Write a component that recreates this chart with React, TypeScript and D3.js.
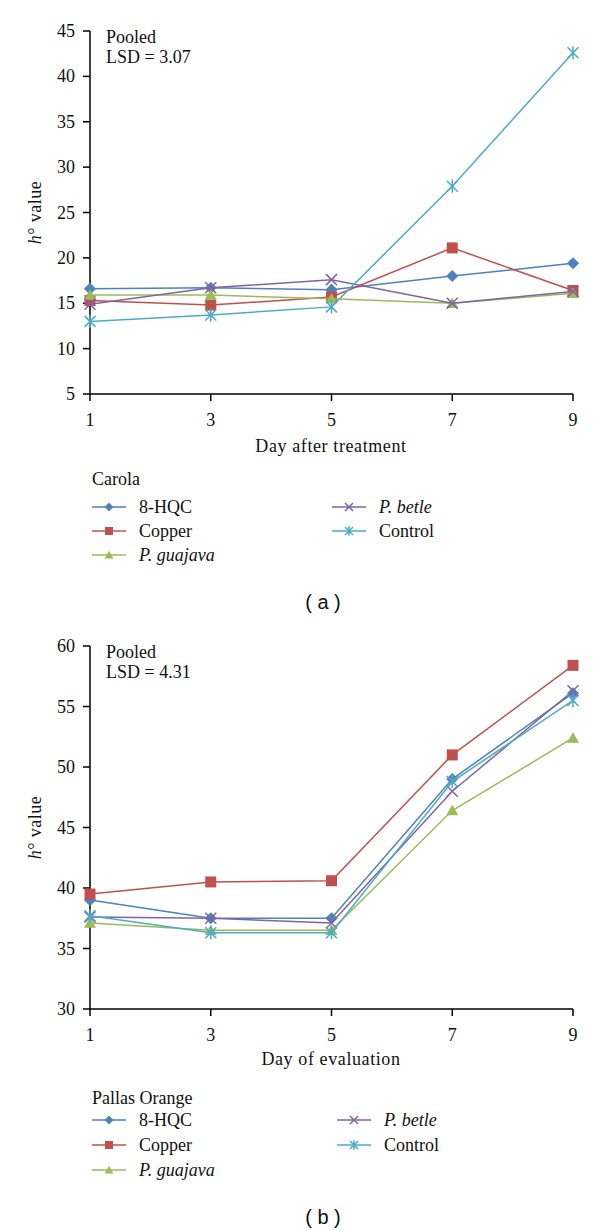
import React from "react";
import * as d3 from "d3";

const days = [1, 3, 5, 7, 9];
const seriesNames = ["8-HQC", "Copper", "P. guajava", "P. betle", "Control"];
const seriesItalic = [false, false, true, true, false];
const seriesColors = ["#4F81BD", "#C0504D", "#9BBB59", "#8064A2", "#4BACC6"];
const seriesMarkers = ["diamond", "square", "triangle", "x", "star"];

// Panel (a) Carola
const carolaHQC = [16.6, 16.7, 16.5, 18.0, 19.4];
const carolaCopper = [15.3, 14.8, 15.7, 21.1, 16.4];
const carolaGuajava = [15.9, 15.9, 15.5, 15.0, 16.1];
const carolaBetle = [14.9, 16.7, 17.6, 15.0, 16.3];
const carolaControl = [13.0, 13.7, 14.6, 27.9, 42.6];
const carolaTicks = [5, 10, 15, 20, 25, 30, 35, 40, 45];

// Panel (b) Pallas Orange
const pallasHQC = [39.0, 37.5, 37.5, 49.0, 56.1];
const pallasCopper = [39.5, 40.5, 40.6, 51.0, 58.4];
const pallasGuajava = [37.1, 36.5, 36.5, 46.4, 52.4];
const pallasBetle = [37.6, 37.5, 37.1, 48.0, 56.3];
const pallasControl = [37.7, 36.3, 36.3, 48.8, 55.5];
const pallasTicks = [30, 35, 40, 45, 50, 55, 60];

const SERIF = "Liberation Serif";
const SANS = "Liberation Sans";
const FS = 18;

function Marker({ type, x, y, color, s }: { type: string; x: number; y: number; color: string; s: number }) {
  const h = s / 2;
  if (type === "diamond") {
    return <path d={`M${x},${y - h * 1.1}L${x + h * 1.1},${y}L${x},${y + h * 1.1}L${x - h * 1.1},${y}Z`} fill={color} />;
  }
  if (type === "square") {
    return <rect x={x - h} y={y - h} width={s} height={s} fill={color} />;
  }
  if (type === "triangle") {
    return <path d={`M${x},${y - h * 1.05}L${x + h * 1.1},${y + h * 0.85}L${x - h * 1.1},${y + h * 0.85}Z`} fill={color} />;
  }
  if (type === "x") {
    return (
      <path d={`M${x - h},${y - h}L${x + h},${y + h}M${x - h},${y + h}L${x + h},${y - h}`} stroke={color} strokeWidth={1.5} fill="none" />
    );
  }
  return (
    <path
      d={`M${x - h},${y - h}L${x + h},${y + h}M${x - h},${y + h}L${x + h},${y - h}M${x},${y - h * 1.2}L${x},${y + h * 1.2}`}
      stroke={color}
      strokeWidth={1.5}
      fill="none"
    />
  );
}

type PanelProps = {
  data: number[][];
  domain: [number, number];
  ticks: number[];
  yTop: number;
  yBottom: number;
  xTitle: string;
  xTitleY: number;
  lsd: string;
  legendTitle: string;
  legendTitleY: number;
  legendRows: number[];
  legendCol2X: number;
  caption: string;
  captionY: number;
};

function Panel(p: PanelProps) {
  const x = d3.scaleLinear().domain([1, 9]).range([90, 573]);
  const y = d3.scaleLinear().domain(p.domain).range([p.yBottom, p.yTop]);
  const line = d3
    .line<number>()
    .x((_, i) => x(days[i]))
    .y((v) => y(v));
  const yMid = (p.yTop + p.yBottom) / 2;
  return (
    <g fontFamily={SERIF}>
      {/* axes */}
      <line x1={90} x2={90} y1={y(p.domain[1])} y2={y(p.domain[0])} stroke="#000" strokeWidth={1.5} />
      <line x1={90} x2={573} y1={y(p.domain[0])} y2={y(p.domain[0])} stroke="#000" strokeWidth={1.5} />
      {p.ticks.map((t) => (
        <g key={"yt" + t}>
          <line x1={83} x2={90} y1={y(t)} y2={y(t)} stroke="#000" strokeWidth={1.5} />
          <text x={75} y={y(t) + 6} textAnchor="end" fontFamily={SERIF} fontSize={FS} fill="#111">
            {t}
          </text>
        </g>
      ))}
      {days.map((d) => (
        <g key={"xt" + d}>
          <line x1={x(d)} x2={x(d)} y1={y(p.domain[0])} y2={y(p.domain[0]) + 7} stroke="#000" strokeWidth={1.5} />
          <text x={x(d)} y={y(p.domain[0]) + 32} textAnchor="middle" fontFamily={SERIF} fontSize={FS} fill="#111">
            {d}
          </text>
        </g>
      ))}
      <text x={331} y={p.xTitleY} textAnchor="middle" fontFamily={SERIF} fontSize={FS} letterSpacing={0.6} fill="#111">
        {p.xTitle}
      </text>
      <text
        transform={`translate(41,${yMid}) rotate(-90)`}
        textAnchor="middle"
        fontFamily={SERIF}
        fontSize={FS}
        letterSpacing={0.5}
        fill="#111"
      >
        <tspan fontStyle="italic">h</tspan>
        <tspan>° value</tspan>
      </text>
      <text x={106} y={p.yTop + 12} fontFamily={SERIF} fontSize={FS} fill="#111">
        Pooled
      </text>
      <text x={106} y={p.yTop + 32} fontFamily={SERIF} fontSize={FS} fill="#111">
        {p.lsd}
      </text>
      {/* series */}
      {p.data.map((vals, si) => (
        <g key={"s" + si}>
          <path d={line(vals) || ""} fill="none" stroke={seriesColors[si]} strokeWidth={1.5} />
          {vals.map((v, i) => (
            <Marker key={i} type={seriesMarkers[si]} x={x(days[i])} y={y(v)} color={seriesColors[si]} s={11} />
          ))}
        </g>
      ))}
      {/* legend */}
      <text x={92} y={p.legendTitleY} fontFamily={SERIF} fontSize={FS} fill="#111">
        {p.legendTitle}
      </text>
      {seriesNames.map((name, si) => {
        const col = si < 3 ? 0 : 1;
        const row = si < 3 ? si : si - 3;
        const lx = col === 0 ? 92 : p.legendCol2X;
        const ly = p.legendRows[row];
        return (
          <g key={"lg" + si}>
            <line x1={lx} x2={lx + 34} y1={ly} y2={ly} stroke={seriesColors[si]} strokeWidth={1.5} />
            <Marker type={seriesMarkers[si]} x={lx + 17} y={ly} color={seriesColors[si]} s={8} />
            <text
              x={lx + 47}
              y={ly + 6}
              fontFamily={SERIF}
              fontSize={FS}
              fontStyle={seriesItalic[si] ? "italic" : "normal"}
              fill="#111"
            >
              {name}
            </text>
          </g>
        );
      })}
      <text x={323} y={p.captionY} textAnchor="middle" fontFamily={SANS} fontSize={20} fill="#111">
        {p.caption}
      </text>
    </g>
  );
}

export default function App() {
  return (
    <svg width={600} height={1231} style={{ position: "absolute", left: 0, top: 0, background: "#fff" }}>
      <rect x={0} y={0} width={600} height={1231} fill="#fff" />
      <Panel
        data={[carolaHQC, carolaCopper, carolaGuajava, carolaBetle, carolaControl]}
        domain={[5, 45]}
        ticks={carolaTicks}
        yTop={31}
        yBottom={394}
        xTitle="Day after treatment"
        xTitleY={452}
        lsd="LSD = 3.07"
        legendTitle="Carola"
        legendTitleY={485}
        legendRows={[507, 531, 555]}
        legendCol2X={332}
        caption="( a )"
        captionY={609}
      />
      <Panel
        data={[pallasHQC, pallasCopper, pallasGuajava, pallasBetle, pallasControl]}
        domain={[30, 60]}
        ticks={pallasTicks}
        yTop={646}
        yBottom={1009}
        xTitle="Day of evaluation"
        xTitleY={1065}
        lsd="LSD = 4.31"
        legendTitle="Pallas Orange"
        legendTitleY={1104}
        legendRows={[1120, 1145, 1170]}
        legendCol2X={337}
        caption="( b )"
        captionY={1224}
      />
    </svg>
  );
}
